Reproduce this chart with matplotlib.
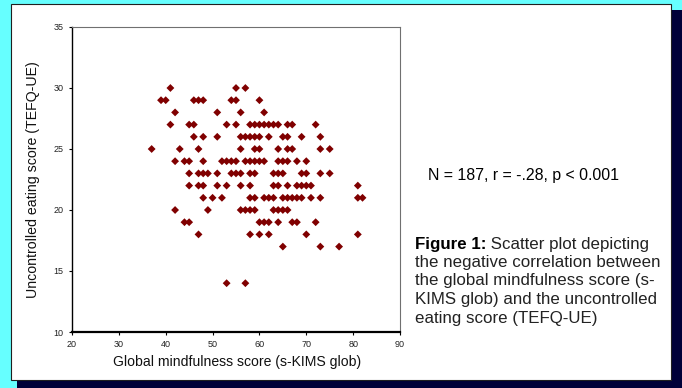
import numpy as np
import matplotlib.pyplot as plt
from matplotlib.patches import Rectangle

plt.rcParams['font.family'] = ['Liberation Sans', 'DejaVu Sans']

# mindfulness scores (s-KIMS glob) found on each uncontrolled eating score row
row_30 = [41, 55, 57]
row_29 = [39, 40, 46, 47, 48, 54, 55, 60]
row_28 = [42, 51, 56, 61]
row_27 = [41, 45, 46, 53, 55, 58, 59, 60, 61, 62, 63, 64, 66, 67, 72]
row_26 = [46, 48, 51, 56, 57, 58, 59, 60, 62, 65, 66, 69, 73]
row_25 = [37, 43, 47, 56, 59, 60, 64, 66, 67, 73, 75]
row_24 = [42, 44, 45, 48, 52, 53, 54, 55, 57, 58, 59, 60, 61, 64, 65, 66, 68, 70]
row_23 = [45, 47, 48, 49, 51, 54, 55, 56, 58, 59, 63, 64, 65, 69, 70, 73, 75]
row_22 = [45, 47, 48, 51, 53, 56, 58, 63, 64, 66, 68, 69, 70, 71, 81]
row_21 = [48, 50, 52, 58, 59, 61, 62, 63, 65, 66, 67, 68, 69, 71, 73, 81, 82]
row_20 = [42, 49, 56, 57, 58, 59, 63, 64, 65, 66]
row_19 = [44, 45, 60, 61, 62, 64, 67, 68, 72]
row_18 = [47, 58, 60, 62, 70, 81]
row_17 = [65, 73, 77]
row_14 = [53, 57]

rows = {30: row_30, 29: row_29, 28: row_28, 27: row_27, 26: row_26, 25: row_25,
        24: row_24, 23: row_23, 22: row_22, 21: row_21, 20: row_20, 19: row_19,
        18: row_18, 17: row_17, 14: row_14}

x_ticks = [20, 30, 40, 50, 60, 70, 80, 90]
y_ticks = [10, 15, 20, 25, 30, 35]

xs = []
ys = []
for ue, kims in rows.items():
    xs += kims
    ys += [ue] * len(kims)

W, H = 682, 388


def fig_box(x0, y0, x1, y1):
    # pixel box (top-left origin) -> figure fraction rect
    return (x0 / W, 1 - y1 / H), (x1 - x0) / W, (y1 - y0) / H


fig = plt.figure(figsize=(W / 100, H / 100), dpi=100)
fig.patch.set_facecolor('#66FFFF')

xy, w, h = fig_box(17, 10, 682, 388)
fig.patches.append(Rectangle(xy, w, h, transform=fig.transFigure,
                             facecolor='#000038', edgecolor='none', zorder=-2))
xy, w, h = fig_box(11, 4, 671, 380)
fig.patches.append(Rectangle(xy, w, h, transform=fig.transFigure,
                             facecolor='white', edgecolor='#202020', lw=0.8, zorder=-1))

ax = fig.add_axes([72 / W, 1 - 332 / H, 328 / W, 305 / H])
ax.scatter(xs, ys, marker='D', s=16, color='#800000', edgecolors='none', zorder=3)

ax.set_xlim(20, 90)
ax.set_ylim(10, 35)
ax.set_xticks(x_ticks)
ax.set_yticks(y_ticks)
ax.tick_params(direction='out', length=2.5, width=0.8, labelsize=6.5,
               labelcolor='#222222', pad=3.5)
ax.spines['left'].set_linewidth(1.0)
ax.spines['bottom'].set_linewidth(1.6)
for s in ['top', 'right']:
    ax.spines[s].set_color('#707070')
    ax.spines[s].set_linewidth(0.8)

fig.text(33 / W, 1 - 180 / H, 'Uncontrolled eating score (TEFQ-UE)', rotation=90,
         ha='center', va='center', fontsize=10.2, color='#111111')
fig.text(237 / W, 1 - 362 / H, 'Global mindfulness score (s-KIMS glob)',
         ha='center', va='center', fontsize=10.1, color='#111111')

fig.text(428 / W, 1 - 180 / H, 'N = 187, r = -.28, p < 0.001',
         ha='left', va='baseline', fontsize=11.4, color='black')

fs = 12.2
first = fig.text(415 / W, 1 - 249 / H, 'Figure 1:', ha='left', va='baseline',
                 fontsize=fs, fontweight='bold', color='black')
fig.texts.append(first)
ax.annotate(' Scatter plot depicting', xy=(1, 0), xycoords=first,
            ha='left', va='bottom', fontsize=fs, color='#222222', annotation_clip=False)
fig.texts.remove(first)
caption = ['the negative correlation between',
           'the global mindfulness score (s-',
           'KIMS glob) and the uncontrolled',
           'eating score (TEFQ-UE)']
for i, line in enumerate(caption):
    fig.text(415 / W, 1 - (267 + 18.5 * i) / H, line, ha='left', va='baseline',
             fontsize=fs, color='#222222')

fig.savefig('out.png', dpi=100, facecolor=fig.get_facecolor())
